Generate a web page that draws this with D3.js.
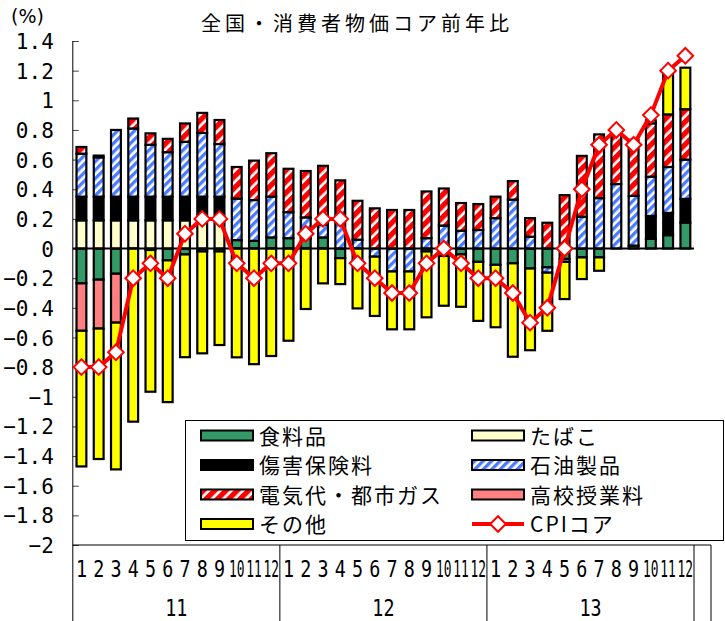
<!DOCTYPE html>
<html><head><meta charset="utf-8">
<script src="https://cdn.jsdelivr.net/npm/d3@7"></script>
<style>body{margin:0;background:#fff}svg{display:block}</style>
</head><body>
<svg id="c" width="725" height="621"></svg>
<script>
// ---------- data ----------
const years = ["11", "12", "13"];
const months = ["1","2","3","4","5","6","7","8","9","10","11","12"];
const categories = years.flatMap(y => months.map(m => y + "/" + m));
const seriesNames = ["食料品", "たばこ", "傷害保険料", "石油製品", "電気代・都市ガス", "高校授業料", "その他"];
const lineName = "CPIコア";

const food = [
  -0.235, -0.21, -0.17, 0, -0.01, -0.08, -0.04, -0.02, -0.02, 0.057, 0.052, 0.075,
  0.07, 0.07, 0.075, -0.065, 0, 0, 0, 0, -0.02, -0.05, -0.04, -0.09,
  -0.11, -0.10, -0.135, -0.127, -0.07, -0.06, -0.06, 0, 0.02, 0.065, 0.09, 0.175];
const tobacco = [
  0.19, 0.19, 0.19, 0.19, 0.19, 0.19, 0.19, 0.19, 0.19, 0, 0, 0,
  0, 0, 0, 0, 0, 0, 0, 0, 0, 0, 0, 0,
  0, 0, 0, 0, 0, 0, 0, 0, 0, 0, 0, 0];
const insurance = [
  0.16, 0.16, 0.16, 0.16, 0.16, 0.16, 0.16, 0.16, 0.16, 0, 0, 0,
  0, 0, 0, 0, 0, 0, 0, 0, 0, 0, 0, 0,
  0, 0, 0, 0, 0, 0, 0, 0, 0, 0.155, 0.15, 0.16];
const petroleum = [
  0.29, 0.265, 0.45, 0.46, 0.35, 0.30, 0.37, 0.43, 0.355, 0.28, 0.275, 0.275,
  0.175, 0.14, 0.085, 0.19, 0.06, -0.055, -0.155, -0.155, 0.07, 0.155, 0.12, 0.125,
  0.205, 0.33, 0.08, -0.036, -0.02, 0.215, 0.34, 0.435, 0.335, 0.265, 0.31, 0.265];
const electricity = [
  0.045, 0.012, 0, 0.067, 0.077, 0.09, 0.124, 0.135, 0.162, 0.213, 0.266, 0.293,
  0.293, 0.313, 0.398, 0.27, 0.262, 0.271, 0.26, 0.26, 0.315, 0.25, 0.187, 0.175,
  0.145, 0.125, 0.125, 0.174, 0.36, 0.41, 0.43, 0.345, 0.378, 0.36, 0.355, 0.34];
const tuition = [
  -0.32, -0.33, -0.33, 0, 0, 0, 0, 0, 0, 0, 0, 0,
  0, 0, 0, 0, 0, 0, 0, 0, 0, 0, 0, 0,
  0, 0, 0, 0, 0, 0, 0, 0, 0, 0, 0, 0];
const other = [
  -0.915, -0.88, -0.99, -1.168, -0.956, -0.956, -0.693, -0.687, -0.631, -0.734, -0.78, -0.725,
  -0.622, -0.408, -0.235, -0.175, -0.404, -0.40, -0.39, -0.39, -0.444, -0.336, -0.353, -0.398,
  -0.421, -0.63, -0.551, -0.392, -0.251, -0.146, -0.09, 0, 0, 0.02, 0.295, 0.28];
const cpiCore = [
  -0.8, -0.8, -0.7, -0.2, -0.1, -0.2, 0.1, 0.2, 0.2, -0.1, -0.2, -0.1,
  -0.1, 0.1, 0.2, 0.2, -0.1, -0.2, -0.3, -0.3, -0.1, 0.0, -0.1, -0.2,
  -0.2, -0.3, -0.5, -0.4, 0.0, 0.4, 0.7, 0.8, 0.7, 0.9, 1.2, 1.3];
const yTicks = [-2, -1.8, -1.6, -1.4, -1.2, -1, -0.8, -0.6, -0.4, -0.2, 0, 0.2, 0.4, 0.6, 0.8, 1, 1.2, 1.4];
const titleText = "全国・消費者物価コア前年比";
const unitText = "(%)";

// ---------- layout ----------
const svg = d3.select("#c");
const X0 = 72.8, X1 = 694, XR = 711, YT = 41, YB = 545, H = 621;
const x = d3.scaleBand().domain(categories).range([X0, X1]).paddingInner(0.43).paddingOuter(0.215);
const y = d3.scaleLinear().domain([-2, 1.4]).range([YB, YT]);
const step = x.step();

const defs = svg.append("defs");
function stripes(id, bg, fg, period, fgw) {
  const p = defs.append("pattern").attr("id", id).attr("patternUnits", "userSpaceOnUse")
    .attr("width", period).attr("height", period).attr("patternTransform", "rotate(45)");
  p.append("rect").attr("width", period).attr("height", period).attr("fill", bg);
  p.append("rect").attr("width", fgw).attr("height", period).attr("fill", fg);
}
stripes("pBlue", "#ffffff", "#4a7cff", 6, 3.3);
stripes("pRed", "#ffffff", "#ff0000", 8, 5.3);
const fills = ["#339966", "#FFFFCC", "#000000", "url(#pBlue)", "url(#pRed)", "#FF8080", "#FFFF00"];

const seriesData = [food, tobacco, insurance, petroleum, electricity, tuition, other];
const rows = categories.map((c, i) => {
  const r = { cat: c };
  seriesNames.forEach((n, k) => r[n] = seriesData[k][i]);
  return r;
});
const stacked = d3.stack().keys(seriesNames).offset(d3.stackOffsetDiverging)(rows);

// title & unit
svg.append("text").attr("x", 357).attr("y", 31).attr("text-anchor", "middle")
  .style("font-family", "'Noto Sans CJK JP'").style("font-size", "20px").style("letter-spacing", "4px")
  .text(titleText);
svg.append("text").attr("x", 11).attr("y", 23)
  .style("font-family", "'DejaVu Sans'").style("font-size", "19px").text(unitText);

// y axis
const fmt = d3.format("~g");
const yAxis = d3.axisLeft(y).tickValues(yTicks).tickSizeInner(-6).tickSizeOuter(0).tickPadding(19).tickFormat(fmt);
const gy = svg.append("g").attr("transform", `translate(${X0},0)`).call(yAxis);
gy.select(".domain").remove();
gy.selectAll(".tick line").attr("stroke", "#444").attr("stroke-width", 1);
gy.selectAll(".tick text").style("font-family", "'DejaVu Sans Mono'").style("font-size", "21px").attr("fill", "#000").attr("dy", "0.36em");

// bars
const gBars = svg.append("g");
stacked.forEach((s, k) => {
  gBars.selectAll(null)
    .data(s.filter(d => Math.abs(y(d[0]) - y(d[1])) > 0.3))
    .join("rect")
    .attr("x", d => x(d.data.cat))
    .attr("width", x.bandwidth())
    .attr("y", d => y(Math.max(d[0], d[1])))
    .attr("height", d => Math.abs(y(d[0]) - y(d[1])))
    .attr("fill", fills[k])
    .attr("stroke", "#000").attr("stroke-width", 2.2);
});

// zero line
svg.append("line").attr("x1", X0).attr("x2", X1).attr("y1", y(0)).attr("y2", y(0))
  .attr("stroke", "#000").attr("stroke-width", 2);

// axis frame lines
svg.append("line").attr("x1", X0).attr("x2", X0).attr("y1", YT).attr("y2", H).attr("stroke", "#000").attr("stroke-width", 1);
svg.append("line").attr("x1", X0).attr("x2", XR).attr("y1", YB).attr("y2", YB).attr("stroke", "#000").attr("stroke-width", 1);
[1, 2, 3].forEach(k => {
  const xx = X0 + k * 12 * step;
  svg.append("line").attr("x1", xx).attr("x2", xx).attr("y1", YB).attr("y2", H).attr("stroke", "#000").attr("stroke-width", 1);
});
svg.append("line").attr("x1", XR).attr("x2", XR).attr("y1", YB).attr("y2", H).attr("stroke", "#000").attr("stroke-width", 1);

// category labels
const gCat = svg.append("g").style("font-family", "'DejaVu Sans Mono'").style("font-size", "23px");
categories.forEach((c, i) => {
  const cx = x(c) + x.bandwidth() / 2;
  const lab = months[i % 12];
  const sx = lab.length > 1 ? 0.56 : 0.8;
  gCat.append("text").attr("text-anchor", "middle")
    .attr("transform", `translate(${cx},577) scale(${sx},1)`)
    .text(lab);
});
years.forEach((yr, k) => {
  const cx = X0 + (k * 12 + 6) * step;
  gCat.append("text").attr("text-anchor", "middle")
    .attr("transform", `translate(${cx},616) scale(0.8,1)`)
    .text(yr);
});

// CPI line
const cx = (c) => x(c) + x.bandwidth() / 2;
const line = d3.line().x((d, i) => cx(categories[i])).y(d => y(d));
svg.append("path").datum(cpiCore).attr("d", line).attr("fill", "none")
  .attr("stroke", "#ff0000").attr("stroke-width", 4).attr("stroke-linejoin", "round");
const diamond = "M0,-7.8L7.8,0L0,7.8L-7.8,0Z";
svg.append("g").selectAll("path").data(cpiCore).join("path")
  .attr("transform", (d, i) => `translate(${cx(categories[i])},${y(d)})`)
  .attr("d", diamond).attr("fill", "#fff").attr("stroke", "#ff0000").attr("stroke-width", 2);

// legend
const lg = svg.append("g");
lg.append("rect").attr("x", 185.5).attr("y", 420.5).attr("width", 538).attr("height", 120)
  .attr("fill", "#fff").attr("stroke", "#000").attr("stroke-width", 1);
const legendItems = seriesNames.map((n, k) => ({ name: n, fill: fills[k] }));
legendItems.push({ name: lineName, line: true });
const colX = [201, 472], rowY = [435.5, 465, 494.5, 524];
legendItems.forEach((it, k) => {
  const sx = colX[k % 2], sy = rowY[Math.floor(k / 2)];
  if (it.line) {
    lg.append("line").attr("x1", sx).attr("x2", sx + 52).attr("y1", sy).attr("y2", sy)
      .attr("stroke", "#ff0000").attr("stroke-width", 4);
    lg.append("path").attr("transform", `translate(${sx + 26},${sy})`).attr("d", diamond)
      .attr("fill", "#fff").attr("stroke", "#ff0000").attr("stroke-width", 2);
  } else {
    lg.append("rect").attr("x", sx).attr("y", sy - 5).attr("width", 52).attr("height", 10)
      .attr("fill", it.fill).attr("stroke", "#000").attr("stroke-width", 2);
  }
  lg.append("text").attr("x", sx + 58).attr("y", sy + 8)
    .style("font-family", "'Noto Sans CJK JP'").style("font-size", "21px").style("letter-spacing", "2px")
    .text(it.name);
});
</script>
</body></html>
